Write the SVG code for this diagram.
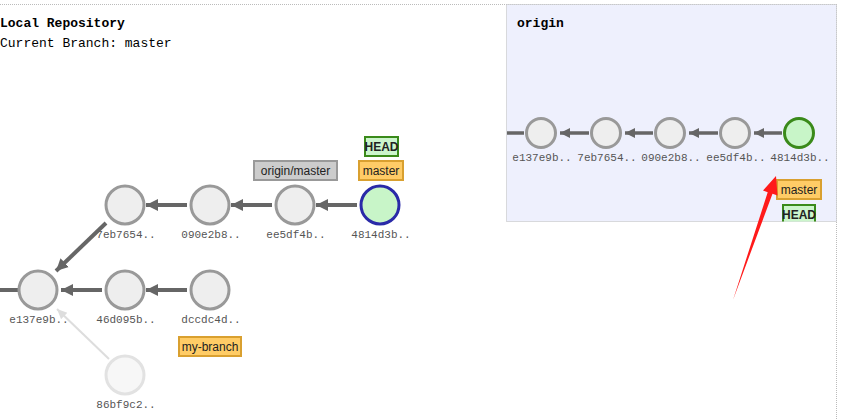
<svg xmlns="http://www.w3.org/2000/svg" width="845" height="420" viewBox="0 0 845 420">
<style>
.title{font-family:"Liberation Mono",monospace;font-weight:bold;font-size:13px;fill:#000}
.sub{font-family:"Liberation Mono",monospace;font-size:13px;fill:#000}
.c{fill:#eeeeee;stroke:#999;stroke-width:3}
.lbl{font-family:"Liberation Mono",monospace;font-size:11px;fill:#555;text-anchor:middle}
.edge{stroke:#666;stroke-width:4;fill:none}
.edge2{stroke:#666;stroke-width:3.5;fill:none}
.tagtxt{font-family:"Liberation Sans",Arial,sans-serif;font-size:12px;fill:#222;text-anchor:middle}
.headtxt{font-family:"Liberation Sans",Arial,sans-serif;font-size:12px;font-weight:bold;fill:#222;text-anchor:middle}
.branch{fill:#ffcc66;stroke:#d9a030;stroke-width:2}
.head{fill:#ccf5cc;stroke:#3a8a1a;stroke-width:2}
.remote{fill:#cccccc;stroke:#999;stroke-width:2}
</style>
<defs>
<marker id="ah" markerUnits="userSpaceOnUse" markerWidth="14" markerHeight="14" refX="12" refY="7" orient="auto">
<path d="M0,1 L12,7 L0,13 Z" fill="#666"/>
</marker>
<marker id="ahs" markerUnits="userSpaceOnUse" markerWidth="12" markerHeight="12" refX="10" refY="6" orient="auto">
<path d="M0,1 L10,6 L0,11 Z" fill="#666"/>
</marker>
<marker id="ahf" markerUnits="userSpaceOnUse" markerWidth="12" markerHeight="12" refX="10" refY="6" orient="auto">
<path d="M0,1.5 L10,6 L0,10.5 Z" fill="#dddddd"/>
</marker>
<clipPath id="panelclip"><rect x="506" y="4" width="331" height="217.5"/></clipPath>
</defs>
<rect width="845" height="420" fill="#fff"/>
<g id="frame">
<line x1="0" y1="4.5" x2="836" y2="4.5" stroke="#bbb" stroke-width="1" stroke-dasharray="1,1"/>
<line x1="836.5" y1="4" x2="836.5" y2="420" stroke="#bbb" stroke-width="1" stroke-dasharray="1,1"/>
<rect id="origin-panel" x="506.5" y="4.5" width="330" height="217" fill="#eef0fd" stroke="#bbb" stroke-width="1" stroke-dasharray="1,1"/>
</g>
<text class="title" x="0" y="27">Local Repository</text>
<text class="sub" x="0" y="47">Current Branch: master</text>
<text class="title" x="517" y="27">origin</text>

<g id="connectors">
<line class="edge" x1="0" y1="290" x2="19" y2="290"/>
<line class="edge" x1="357" y1="205" x2="316" y2="205" marker-end="url(#ah)"/>
<line class="edge" x1="272" y1="205" x2="231" y2="205" marker-end="url(#ah)"/>
<line class="edge" x1="187" y1="205" x2="146" y2="205" marker-end="url(#ah)"/>
<line class="edge" x1="187" y1="290" x2="146" y2="290" marker-end="url(#ah)"/>
<line class="edge" x1="102" y1="290" x2="61" y2="290" marker-end="url(#ah)"/>
<line stroke="#dddddd" stroke-width="2" x1="109" y1="359" x2="57" y2="309" marker-end="url(#ahf)"/>
<line class="edge2" x1="507" y1="133" x2="524" y2="133"/>
<line class="edge2" x1="782" y1="133" x2="754" y2="133" marker-end="url(#ahs)"/>
<line class="edge2" x1="718" y1="133" x2="689" y2="133" marker-end="url(#ahs)"/>
<line class="edge2" x1="653" y1="133" x2="625" y2="133" marker-end="url(#ahs)"/>
<line class="edge2" x1="589" y1="133" x2="560" y2="133" marker-end="url(#ahs)"/>
</g>

<g id="n-eb7654"><circle class="c" cx="125" cy="205" r="19"/><text class="lbl" x="126" y="238">7eb7654..</text></g>
<g id="diag"><line class="edge" x1="106" y1="223" x2="56" y2="271" marker-end="url(#ah)"/></g>
<g id="n-090e2b8"><circle class="c" cx="210" cy="205" r="19"/><text class="lbl" x="211" y="238">090e2b8..</text></g>
<g id="n-ee5df4b"><circle class="c" cx="295" cy="205" r="19"/><text class="lbl" x="296" y="238">ee5df4b..</text></g>
<g id="n-4814d3b"><circle cx="380" cy="205" r="19" fill="#c8f5c8" stroke="#2a2aa8" stroke-width="3"/><text class="lbl" x="381" y="238">4814d3b..</text></g>
<g id="n-e137e9b"><circle class="c" cx="38" cy="290" r="19"/><text class="lbl" x="39" y="323">e137e9b..</text></g>
<g id="n-46d095b"><circle class="c" cx="125" cy="290" r="19"/><text class="lbl" x="126" y="323">46d095b..</text></g>
<g id="n-dccdc4d"><circle class="c" cx="210" cy="290" r="19"/><text class="lbl" x="211" y="323">dccdc4d..</text></g>
<g id="n-86bf9c2"><circle cx="125" cy="375" r="19" fill="#f7f7f7" stroke="#e2e2e2" stroke-width="3"/><text class="lbl" x="126" y="408">86bf9c2..</text></g>

<g id="tag-origin-master"><rect class="remote" x="254" y="161" width="83" height="19"/><text class="tagtxt" x="295.5" y="175">origin/master</text></g>
<g id="tag-master"><rect class="branch" x="359" y="161" width="44" height="19"/><text class="tagtxt" x="381" y="175">master</text></g>
<g id="tag-head"><rect class="head" x="365" y="137" width="33" height="19"/><text class="headtxt" x="381.5" y="151">HEAD</text></g>
<g id="tag-my-branch"><rect class="branch" x="179" y="337" width="62" height="19"/><text class="tagtxt" x="210" y="351">my-branch</text></g>

<g id="o-e137e9b"><circle class="c" cx="541" cy="133" r="14.5"/><text class="lbl" x="542" y="161">e137e9b..</text></g>
<g id="o-7eb7654"><circle class="c" cx="606" cy="133" r="14.5"/><text class="lbl" x="607" y="161">7eb7654..</text></g>
<g id="o-090e2b8"><circle class="c" cx="670" cy="133" r="14.5"/><text class="lbl" x="671" y="161">090e2b8..</text></g>
<g id="o-ee5df4b"><circle class="c" cx="735" cy="133" r="14.5"/><text class="lbl" x="736" y="161">ee5df4b..</text></g>
<g id="o-4814d3b"><circle cx="799" cy="133" r="14.5" fill="#c8f5c8" stroke="#3a8a1a" stroke-width="3"/><text class="lbl" x="800" y="161">4814d3b..</text></g>
<g id="o-tag-master"><rect class="branch" x="777" y="180" width="44" height="19"/><text class="tagtxt" x="799" y="194">master</text></g>
<g id="o-tag-head" clip-path="url(#panelclip)"><rect class="head" x="783" y="205" width="32" height="19"/><text class="headtxt" x="799" y="219">HEAD</text></g>

<g id="red-arrow"><polygon points="733,300 767.7,192.2 763,190.5 776,176 777.5,195.5 772.5,193.8" fill="#ff1a1a"/></g>
</svg>
